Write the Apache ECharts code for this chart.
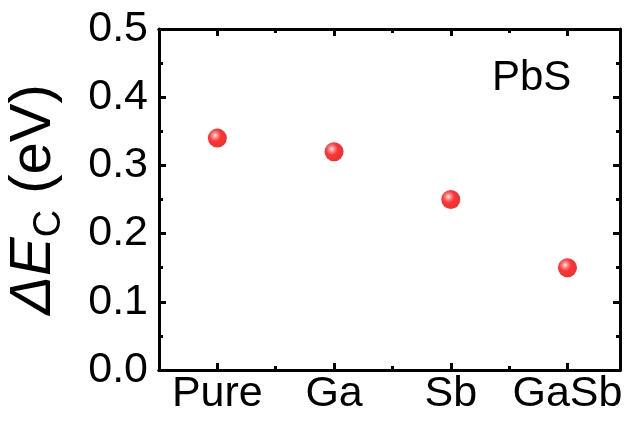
<!DOCTYPE html>
<html><head><meta charset="utf-8">
<script src="https://cdn.jsdelivr.net/npm/echarts@6/dist/echarts.min.js"></script>
<style>html,body{margin:0;padding:0;background:#fff}#c{width:626px;height:424px}</style>
</head><body><div id="c"></div>
<script>
var categories = ['Pure', 'Ga', 'Sb', 'GaSb'];
var positions = [1, 2, 3, 4];
var deltaEc = [0.34, 0.32, 0.25, 0.15];
var yTicks = [0.0, 0.1, 0.2, 0.3, 0.4, 0.5];
var xMinorTicks = [1.5, 2.5, 3.5];
var annotation = 'PbS';

var FONT = 'Liberation Sans, Arial, sans-serif';
var chart = echarts.init(document.getElementById('c'));
var lineStyle = {color: '#000', width: 3};
var sphere = {
  type: 'radial', x: 0.38, y: 0.36, r: 0.64,
  colorStops: [
    {offset: 0, color: '#ffffff'},
    {offset: 0.2, color: '#ff7070'},
    {offset: 0.5, color: '#ff0000'},
    {offset: 1, color: '#e80000'}
  ]
};
var xBase = {type: 'value', min: 0.5, max: 4.45, gridIndex: 0,
  splitLine: {show: false}, axisLine: {show: true, onZero: false, lineStyle: lineStyle}};
chart.setOption({
  animation: false,
  grid: {left: 159, right: 6, top: 29, bottom: 54, containLabel: false, outerBoundsMode: 'none'},
  xAxis: [
    Object.assign({}, xBase, {position: 'bottom',
      axisTick: {show: true, inside: true, length: 7, lineStyle: {width: 3, color: '#000'}, customValues: positions},
      axisLabel: {show: true, margin: 3, fontSize: 43, color: '#000', fontFamily: FONT,
        customValues: positions,
        formatter: function (v) { var i = positions.indexOf(Math.round(v)); return i >= 0 ? categories[i] : ''; }}}),
    Object.assign({}, xBase, {position: 'bottom',
      axisTick: {show: true, inside: true, length: 4, lineStyle: {width: 3, color: '#000'}, customValues: xMinorTicks},
      axisLabel: {show: false}}),
    Object.assign({}, xBase, {position: 'top',
      axisTick: {show: true, inside: true, length: 7, lineStyle: {width: 3, color: '#000'}, customValues: positions},
      axisLabel: {show: false}}),
    Object.assign({}, xBase, {position: 'top',
      axisTick: {show: true, inside: true, length: 4, lineStyle: {width: 3, color: '#000'}, customValues: xMinorTicks},
      axisLabel: {show: false}})
  ],
  yAxis: [
    {type: 'value', min: 0, max: 0.5, interval: 0.1, position: 'left',
      splitLine: {show: false},
      axisLine: {show: true, lineStyle: lineStyle},
      axisTick: {show: true, inside: true, length: 7, lineStyle: {width: 3, color: '#000'}},
      minorTick: {show: true, splitNumber: 2, length: 4, lineStyle: {width: 3, color: '#000'}},
      axisLabel: {margin: 11, fontSize: 43, color: '#000', fontFamily: FONT,
        formatter: function (v) { return v.toFixed(1); }},
      name: '{a|ΔE}{b|C}{c| (eV)}',
      nameLocation: 'middle', nameRotate: 90, nameGap: 90,
      nameTextStyle: {
        fontFamily: FONT, color: '#000',
        rich: {
          a: {fontSize: 58, fontStyle: 'italic', lineHeight: 70, fontFamily: FONT, color: '#000'},
          b: {fontSize: 38, lineHeight: 26, verticalAlign: 'bottom', fontFamily: FONT, color: '#000'},
          c: {fontSize: 58, lineHeight: 70, fontFamily: FONT, color: '#000'}
        }
      }},
    {type: 'value', min: 0, max: 0.5, interval: 0.1, position: 'right',
      splitLine: {show: false},
      axisLine: {show: true, lineStyle: lineStyle},
      axisTick: {show: true, inside: true, length: 7, lineStyle: {width: 3, color: '#000'}},
      minorTick: {show: true, splitNumber: 2, length: 4, lineStyle: {width: 3, color: '#000'}},
      axisLabel: {show: false}}
  ],
  graphic: [{
    type: 'text', left: 492, top: 57,
    style: {text: annotation, fontSize: 42, fontFamily: FONT, fill: '#000'}
  }],
  series: [{
    type: 'scatter', xAxisIndex: 0, yAxisIndex: 0,
    data: positions.map(function (p, i) { return [p, deltaEc[i]]; }),
    symbol: 'circle', symbolSize: 19,
    itemStyle: {color: sphere}
  }]
});
</script></body></html>
